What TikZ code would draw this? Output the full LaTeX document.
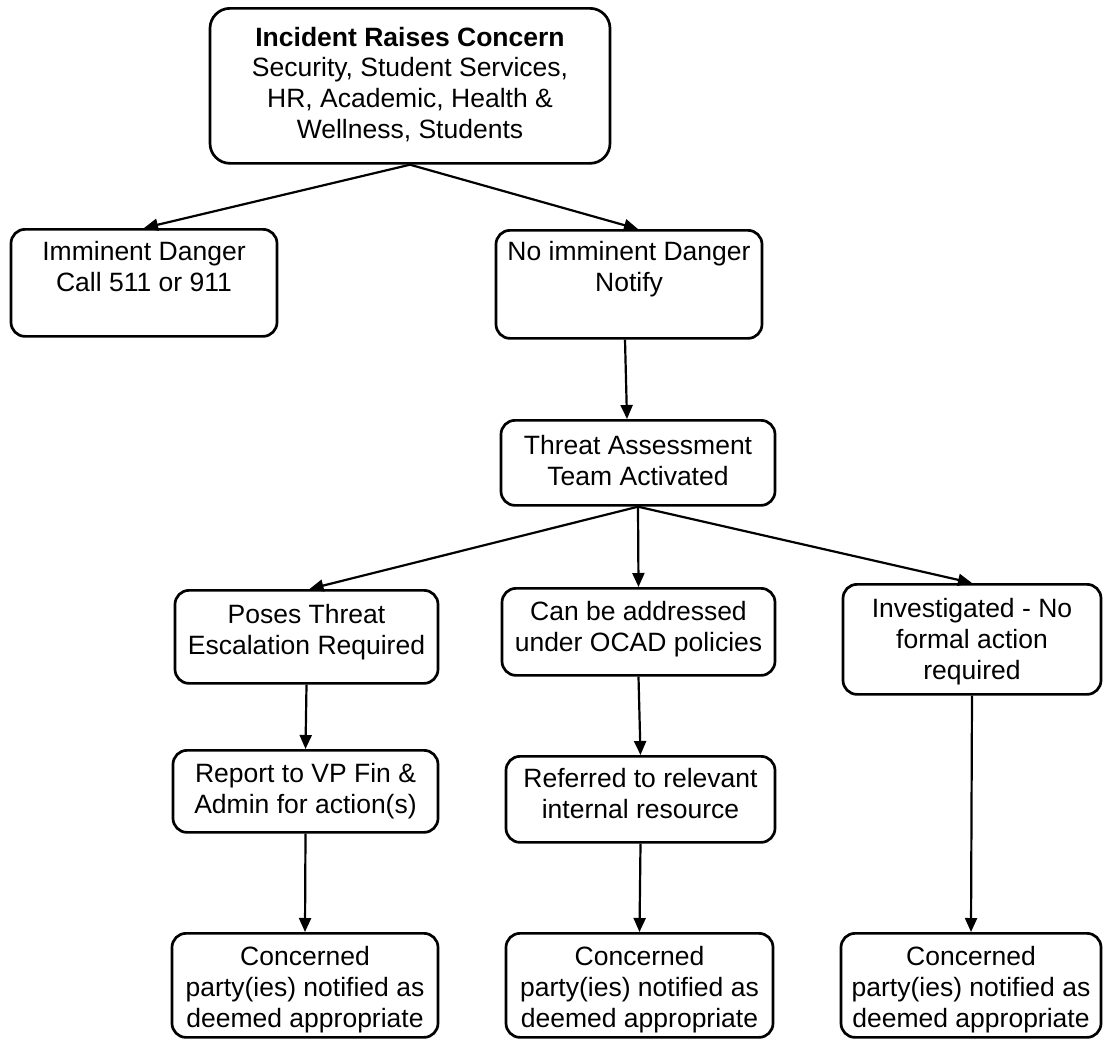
\documentclass[tikz,border=0pt]{standalone}
\usepackage{fontspec}
\setmainfont{Liberation Sans}
\usetikzlibrary{arrows.meta,positioning}

\begin{document}
\begin{tikzpicture}[>={Triangle[length=14pt,width=12pt]}, x=1pt, y=-1pt, line width=2.2pt,
    box/.style={draw, rounded corners=14pt, line width=2.7pt, align=center, anchor=north,
        inner xsep=4pt, inner ysep=0pt, font=\fontsize{26.5}{30.7}\selectfont},
    tall/.style 2 args={text height=#1pt, text depth=#2pt}]
    \useasboundingbox (0,0) rectangle (1104,1042);

    % Top of the chart
    \node[box, rounded corners=20pt, minimum width=400pt, tall={130}{25}] (incident) at (410,7)
        {\textbf{Incident Raises Concern}\\Security, Student Services,\\HR, Academic, Health \&\\Wellness, Students};
    \node[box, minimum width=266pt, tall={62}{45}] (danger) at (144,228) {Imminent Danger\\Call 511 or 911};
    \node[box, minimum width=266pt, tall={61}{47}] (nodanger) at (629,229) {No imminent Danger\\Notify};
    \node[box, minimum width=274pt, tall={65}{20}] (team) at (638,419) {Threat Assessment\\Team Activated};

    % Three outcomes
    \node[box, minimum width=263pt, tall={64}{29}] (threat) at (306.5,589) {Poses Threat\\Escalation Required};
    \node[box, minimum width=273pt, tall={63}{24}] (policy) at (638.5,587) {Can be addressed\\under OCAD policies};
    \node[box, minimum width=258pt, tall={95}{15}] (noaction) at (972,583) {Investigated - No\\formal action\\required};
    \node[box, minimum width=265pt, tall={63}{19}] (report) at (305.5,749) {Report to VP Fin \&\\Admin for action(s)};
    \node[box, minimum width=269pt, tall={62}{24}] (referred) at (640.5,755) {Referred to relevant\\internal resource};

    % Notified boxes
    \node[box, minimum width=266pt, tall={94}{10}] (notified1) at (305,932) {Concerned\\party(ies) notified as\\deemed appropriate};
    \node[box, minimum width=267pt, tall={94}{10}] (notified2) at (639.5,932) {Concerned\\party(ies) notified as\\deemed appropriate};
    \node[box, minimum width=260pt, tall={94}{10}] (notified3) at (971,932) {Concerned\\party(ies) notified as\\deemed appropriate};

    % Connectors
    \draw[->] (incident.south) -- (danger.north);
    \draw[->] (incident.south) -- ([xshift=9pt]nodanger.north);
    \draw[->] ([xshift=-4pt]nodanger.south) -- ([xshift=-11pt]team.north);
    \draw[->] (team.south) -- ([xshift=3pt]threat.north);
    \draw[->] (team.south) -- (policy.north);
    \draw[->] (team.south) -- (noaction.north);
    \draw[->] (threat.south) -- (report.north);
    \draw[->] (policy.south) -- (referred.north);
    \draw[->] (report.south) -- (notified1.north);
    \draw[->] (referred.south) -- (notified2.north);
    \draw[->] (noaction.south) -- (notified3.north);
\end{tikzpicture}
\end{document}
